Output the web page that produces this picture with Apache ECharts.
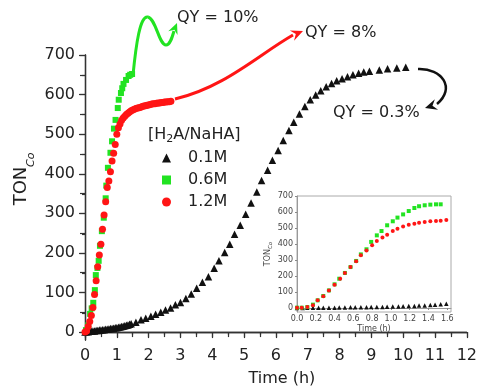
<!DOCTYPE html>
<html><head><meta charset="utf-8">
<script src="https://cdn.jsdelivr.net/npm/echarts@6/dist/echarts.min.js"></script>
<style>html,body{margin:0;padding:0;background:#fff}#c{width:480px;height:392px}</style>
</head><body><div id="c"></div>
<script>
// ---------- main chart data ----------
const tBlack = [0,0.05,0.1,0.15,0.2,0.25,0.3,0.35,0.4,0.45,0.5,0.55,0.6,0.65,0.7,0.75,0.8,0.85,0.9,0.95,1.0,1.05,1.1,1.15,1.2,1.25,1.3,1.35,1.4,
  1.45,1.60,1.76,1.91,2.07,2.22,2.38,2.53,2.69,2.84,3.00,3.17,3.34,3.51,3.69,3.88,4.06,4.21,4.39,4.55,4.70,4.88,5.05,5.22,5.40,5.55,5.74,5.89,6.07,6.23,6.41,6.56,6.74,6.91,7.08,7.25,7.41,7.58,7.75,7.91,8.08,8.25,8.42,8.60,8.76,8.94,9.25,9.51,9.80,10.08];
const vBlack = [0,1,1,2,2,3,3,4,4,5,5,6,6,7,7,8,9,9,10,11,11,12,13,14,15,16,17,18,20,
  21,25,31,35,40,45,50,56,61,69,75,85,96,111,126,140,161,180,201,222,247,270,298,326,354,383,409,434,459,484,509,530,551,570,587,599,610,620,628,635,640,645,650,654,657,659,662,665,667,669];
const tGreen = [0.03,0.10,0.16,0.21,0.26,0.31,0.34,0.39,0.43,0.47,0.53,0.59,0.65,0.67,0.72,0.80,0.85,0.91,0.96,1.03,1.06,1.13,1.17,1.21,1.29,1.37,1.42,1.48];
const vGreen = [5,17,46,60,74,106,144,162,180,218,255,289,338,370,415,453,482,514,536,566,587,604,616,627,637,647,650,652];
const tRed = [0,0.05,0.1,0.15,0.2,0.25,0.3,0.35,0.4,0.45,0.5,0.55,0.6,0.65,0.7,0.75,0.8,0.85,0.9,0.95,
  1.0,1.05,1.1,1.15,1.2,1.25,1.3,1.35,1.4,1.45,1.5,1.55,1.6,1.65,1.7,1.75,1.8,1.85,1.9,1.95,
  2.0,2.05,2.1,2.15,2.2,2.25,2.3,2.35,2.4,2.45,2.5,2.55,2.6,2.65,2.7];
const vRed = [0,3,14,27,42,62,95,130,165,195,222,260,296,329,365,382,405,432,452,474,
  500,516,526,535,541,545,550,553,556,559,561,563,565,566,567,568,570,571,572,573,
  574,575,576,577,577,578,579,579,580,580,581,581,582,582,583];
// ---------- inset data ----------
const tBlackIn = [0,0.06,0.11,0.17,0.23,0.28,0.34,0.40,0.45,0.51,0.57,0.62,0.68,0.74,0.79,0.85,0.91,0.96,1.02,1.08,1.13,1.19,1.25,1.30,1.36,1.42,1.47,1.53,1.59];
const vBlackIn = [0,0,1,1,1,2,2,2,3,3,4,4,5,5,6,6,7,8,9,10,11,12,13,15,16,18,20,23,26];
const tGreenIn = [0.00,0.05,0.11,0.17,0.22,0.28,0.34,0.40,0.45,0.51,0.57,0.63,0.68,0.74,0.79,0.85,0.90,0.96,1.02,1.07,1.13,1.19,1.25,1.30,1.36,1.42,1.48,1.53];
const vGreenIn = [2,2,6,21,48,75,110,148,183,219,256,294,335,367,413,454,481,517,542,565,585,606,625,636,642,646,648,648];
const tRedIn = [0.00,0.05,0.11,0.17,0.22,0.28,0.34,0.40,0.46,0.51,0.57,0.63,0.68,0.74,0.80,0.85,0.91,0.96,1.02,1.07,1.13,1.19,1.25,1.30,1.36,1.42,1.48,1.53,1.59];
const vRedIn = [2,2,6,17,48,73,110,146,183,219,256,292,329,360,392,419,440,458,481,496,510,521,527,533,537,542,544,546,550];
// ---------- tick labels ----------
const yMajor = [0,100,200,300,400,500,600,700];
const yMinor = [50,150,250,350,450,550,650];
const yAll = [0,50,100,150,200,250,300,350,400,450,500,550,600,650,700];
const xInsetLabels = [0,0.2,0.4,0.6,0.8,1.0,1.2,1.4,1.6];
const seriesNames = ['0.1M','0.6M','1.2M'];

const F = 'DejaVu Sans';
const TXT = '#222';
const BLACK = '#111', GREEN = '#22e322', RED = '#ff1515';
const pair = (t, v) => t.map((x, i) => [x, v[i]]);

const chart = echarts.init(document.getElementById('c'));

function arrowHead(tip, from, L, W, color) {
  const dx = tip[0] - from[0], dy = tip[1] - from[1];
  const d = Math.hypot(dx, dy); const ux = dx / d, uy = dy / d; const nx = -uy, ny = ux;
  const bx = tip[0] - L * ux, by = tip[1] - L * uy;
  return {type: 'polygon', z: 100, shape: {points: [tip, [bx + W * nx, by + W * ny], [tip[0] - 0.65 * L * ux, tip[1] - 0.65 * L * uy], [bx - W * nx, by - W * ny]]},
    style: {fill: color}};
}
function curve(p, color, w) {
  return {type: 'bezierCurve', z: 100, shape: {x1: p[0], y1: p[1], cpx1: p[2], cpy1: p[3], cpx2: p[4], cpy2: p[5], x2: p[6], y2: p[7]},
    style: {stroke: color, lineWidth: w, fill: null}};
}
function label(x, y, text, size) {
  return {type: 'text', x: x, y: y, z: 100, style: {text: text, fontFamily: F, fontSize: size, fill: TXT, align: 'left', verticalAlign: 'middle'}};
}

const axisLineMain = {show: true, lineStyle: {color: '#333', width: 1.3}};
const tickStyle = {color: '#333', width: 1.2};
const insetLine = {show: true, lineStyle: {color: '#999', width: 1}};

const option = {
  animation: false,
  backgroundColor: '#fff',
  grid: [
    {left: 85, right: 8, top: 55, bottom: 51},
    {left: 297, right: 29, top: 196, bottom: 80, show: true, borderColor: '#aaa', borderWidth: 1, backgroundColor: '#fff', z: 3},
    {left: 85, right: 8, top: 55, bottom: 51}
  ],
  xAxis: [
    {gridIndex: 0, type: 'value', min: 0, max: 12, interval: 1, position: 'bottom',
      axisLine: axisLineMain, axisTick: {length: 6, lineStyle: tickStyle},
      minorTick: {show: true, splitNumber: 2, length: 3, lineStyle: tickStyle},
      splitLine: {show: false},
      axisLabel: {fontFamily: F, fontSize: 16, color: TXT, margin: 8},
      name: 'Time (h)', nameLocation: 'middle', nameGap: 31,
      nameTextStyle: {fontFamily: F, fontSize: 16, color: TXT, padding: [0, 0, 0, 12]}},
    {gridIndex: 0, type: 'value', min: 0, max: 12, interval: 0.5, position: 'top',
      axisLine: axisLineMain, axisTick: {inside: true, length: 5, lineStyle: tickStyle},
      splitLine: {show: false}, axisLabel: {show: false}},
    {gridIndex: 1, type: 'value', min: 0, max: 1.64, position: 'bottom', z: 4,
      axisLine: insetLine, axisTick: {customValues: xInsetLabels, length: 2, lineStyle: {color: '#888'}},
      splitLine: {show: false},
      axisLabel: {customValues: xInsetLabels, formatter: v => v.toFixed(1), fontFamily: F, fontSize: 8, color: '#444', margin: 3},
      name: 'Time (h)', nameLocation: 'middle', nameGap: 13,
      nameTextStyle: {fontFamily: F, fontSize: 8, color: '#444'}},
    {gridIndex: 2, type: 'value', min: 0, max: 12, show: false}
  ],
  yAxis: [
    {gridIndex: 0, type: 'value', min: -20, max: 700, position: 'left',
      axisLine: axisLineMain, axisTick: {customValues: yMajor, length: 6, lineStyle: tickStyle},
      splitLine: {show: false},
      axisLabel: {customValues: yMajor, fontFamily: F, fontSize: 16, color: TXT, margin: 10}},
    {gridIndex: 0, type: 'value', min: -20, max: 700, position: 'right',
      axisLine: axisLineMain, axisTick: {inside: true, customValues: yAll, length: 5, lineStyle: tickStyle},
      splitLine: {show: false}, axisLabel: {show: false}},
    {gridIndex: 1, type: 'value', min: -25, max: 700, position: 'left', z: 4,
      axisLine: insetLine, axisTick: {customValues: yMajor, length: 2, lineStyle: {color: '#888'}},
      splitLine: {show: false},
      axisLabel: {customValues: yMajor, fontFamily: F, fontSize: 8, color: '#444', margin: 4},
      name: '{a|TON}{b|Co}', nameLocation: 'middle', nameGap: 21,
      nameTextStyle: {rich: {a: {fontFamily: F, fontSize: 8, color: '#444'}, b: {fontFamily: F, fontSize: 5.5, fontStyle: 'italic', color: '#444', padding: [6, 0, 0, 0]}}}},
    {gridIndex: 2, type: 'value', min: -20, max: 700, position: 'left',
      axisLine: {show: false}, axisTick: {customValues: yMinor, length: 3, lineStyle: tickStyle},
      splitLine: {show: false}, axisLabel: {show: false}}
  ],
  legend: {
    orient: 'vertical', left: 162, top: 150, padding: 0, itemGap: 6,
    itemWidth: 9, itemHeight: 9,
    data: [{name: seriesNames[0], icon: 'triangle'}, {name: seriesNames[1], icon: 'rect'}, {name: seriesNames[2], icon: 'circle'}],
    textStyle: {fontFamily: F, fontSize: 16, color: TXT, lineHeight: 16, padding: [0, 0, 0, 12]}
  },
  series: [
    {name: seriesNames[0], type: 'scatter', xAxisIndex: 0, yAxisIndex: 0, symbol: 'triangle', symbolSize: 7.5,
      itemStyle: {color: BLACK, opacity: 1}, data: pair(tBlack, vBlack), z: 2},
    {name: seriesNames[1], type: 'scatter', xAxisIndex: 0, yAxisIndex: 0, symbol: 'rect', symbolSize: 6,
      itemStyle: {color: GREEN, opacity: 1}, data: pair(tGreen, vGreen), z: 3},
    {name: seriesNames[2], type: 'scatter', xAxisIndex: 0, yAxisIndex: 0, symbol: 'circle', symbolSize: 7,
      itemStyle: {color: RED, opacity: 1}, data: pair(tRed, vRed), z: 4},
    {name: seriesNames[0], type: 'scatter', xAxisIndex: 2, yAxisIndex: 2, symbol: 'triangle', symbolSize: 4.5,
      itemStyle: {color: BLACK, opacity: 1}, data: pair(tBlackIn, vBlackIn), z: 5},
    {name: seriesNames[1], type: 'scatter', xAxisIndex: 2, yAxisIndex: 2, symbol: 'rect', symbolSize: 4,
      itemStyle: {color: GREEN, opacity: 1}, data: pair(tGreenIn, vGreenIn), z: 6},
    {name: seriesNames[2], type: 'scatter', xAxisIndex: 2, yAxisIndex: 2, symbol: 'circle', symbolSize: 4,
      itemStyle: {color: RED, opacity: 1}, data: pair(tRedIn, vRedIn), z: 7}
  ],
  graphic: [
    {type: 'group', x: 21, y: 186, rotation: Math.PI / 2, z: 100, children: [
      {type: 'text', x: 0, y: 0, style: {text: 'TON', fontFamily: F, fontSize: 18, fill: TXT, align: 'center', verticalAlign: 'middle'}},
      {type: 'text', x: 19, y: 10, style: {text: 'Co', fontFamily: F, fontSize: 11, fontStyle: 'italic', fill: TXT, align: 'left', verticalAlign: 'middle'}}
    ]},
    {type: 'text', x: 148, y: 135, z: 100, style: {text: '{a|[H}{s|2}{a|A/NaHA]}', fontFamily: F, fontSize: 16, fill: TXT, align: 'left', verticalAlign: 'middle',
      rich: {a: {fontFamily: F, fontSize: 16, fill: TXT}, s: {fontFamily: F, fontSize: 11, fill: TXT, padding: [8, 0, 0, 0]}}}},
    label(177, 18, 'QY = 10%', 16),
    label(305, 33, 'QY = 8%', 16),
    label(333, 113, 'QY = 0.3%', 16),
    curve([133, 75, 136, 45, 140, 15, 148, 17], GREEN, 3),
    curve([148, 17, 156, 19, 159, 45, 166, 45], GREEN, 3),
    curve([166, 45, 170, 45, 172, 38, 174, 31], GREEN, 3),
    arrowHead([177, 23], [173, 33], 11, 5, GREEN),
    curve([175, 99, 225, 87, 258, 55, 293, 35], RED, 3),
    arrowHead([303, 31], [291, 36], 12, 5.5, RED),
    curve([418, 69, 442, 68, 456, 88, 437, 104], '#111', 2.5),
    arrowHead([425, 108], [438, 104], 12, 5.5, '#111')
  ]
};
chart.setOption(option);
</script>
</body></html>
